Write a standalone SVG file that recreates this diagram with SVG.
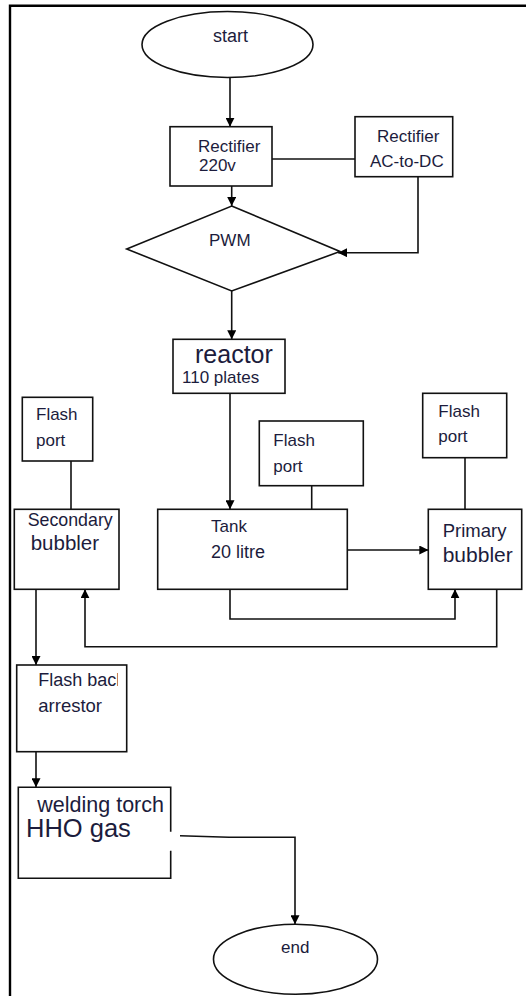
<svg xmlns="http://www.w3.org/2000/svg" width="526" height="996" viewBox="0 0 526 996">
<style>
.box{fill:#fff;stroke:#111;stroke-width:1.6}
.t{font-family:"Liberation Sans",Arial,sans-serif;font-size:17px;fill:#1c1c3c}
.c{fill:none;stroke:#111;stroke-width:1.6}
.frame{stroke:#000;stroke-width:2.4;fill:none}
</style>
<defs>
<marker id="ah" markerUnits="userSpaceOnUse" markerWidth="9" markerHeight="9" refX="9" refY="4.5" orient="auto" viewBox="0 0 9 9">
<path d="M0,0 L9,4.5 L0,9 z" fill="#000"/>
</marker>
<clipPath id="clipArr"><rect x="16" y="665" width="102" height="87"/></clipPath>
</defs>
<rect width="526" height="996" fill="#fff"/>
<path class="frame" d="M10 996 V5.8 H526"/>

<g id="connectors">
<path class="c" d="M230 77.5 V126.7" marker-end="url(#ah)"/>
<path class="c" d="M272 159 H355"/>
<path class="c" d="M231.7 186 V206" marker-end="url(#ah)"/>
<path class="c" d="M418 177 V252.7 H338" marker-end="url(#ah)"/>
<path class="c" d="M231.7 291 V339.3" marker-end="url(#ah)"/>
<path class="c" d="M230 393.3 V509.3" marker-end="url(#ah)"/>
<path class="c" d="M311.7 485.7 V509.3"/>
<path class="c" d="M71 461 V509.3"/>
<path class="c" d="M465 457.7 V509.3"/>
<path class="c" d="M347.3 550 H428.3" marker-end="url(#ah)"/>
<path class="c" d="M230 589.3 V619 H455 V589.3" marker-end="url(#ah)"/>
<path class="c" d="M496.7 589.3 V646.7 H85 V589.3" marker-end="url(#ah)"/>
<path class="c" d="M36 589.3 V665" marker-end="url(#ah)"/>
<path class="c" d="M36 751.7 V787.3" marker-end="url(#ah)"/>
<path class="c" d="M180 835.7 L229 837.3 H295 V924.3" marker-end="url(#ah)"/>
</g>

<g id="start">
<ellipse class="box" cx="227.5" cy="44.5" rx="85.5" ry="33"/>
<text class="t" x="213" y="42" style="font-size:18px">start</text>
</g>

<g id="rectifier220">
<rect class="box" x="170" y="126.7" width="102" height="59.3"/>
<text class="t" x="198" y="152">Rectifier</text>
<text class="t" x="199" y="170.5">220v</text>
</g>

<g id="rectifierACDC">
<rect class="box" x="355" y="116.7" width="97.7" height="60"/>
<text class="t" x="377" y="142">Rectifier</text>
<text class="t" x="370" y="167">AC-to-DC</text>
</g>

<g id="pwm">
<polygon class="box" points="231.7,206 340,251.5 231.7,291 126.7,249"/>
<text class="t" x="209" y="246">PWM</text>
</g>

<g id="reactor">
<rect class="box" x="173" y="339.3" width="112" height="54"/>
<text class="t" x="195" y="363" style="font-size:25px">reactor</text>
<text class="t" x="182" y="383">110 plates</text>
</g>

<g id="flashport-left">
<rect class="box" x="22.3" y="397.3" width="70.4" height="63.7"/>
<text class="t" x="36" y="420">Flash</text>
<text class="t" x="36" y="446">port</text>
</g>

<g id="flashport-mid">
<rect class="box" x="259.3" y="421" width="104" height="64.7"/>
<text class="t" x="273.3" y="446">Flash</text>
<text class="t" x="273.3" y="471.7">port</text>
</g>

<g id="flashport-right">
<rect class="box" x="422.7" y="393.3" width="84" height="64.4"/>
<text class="t" x="438.3" y="416.7">Flash</text>
<text class="t" x="438.3" y="441.7">port</text>
</g>

<g id="secondary-bubbler">
<rect class="box" x="14.3" y="509.3" width="104.7" height="80"/>
<text class="t" x="27.7" y="526" style="font-size:17.8px">Secondary</text>
<text class="t" x="30.7" y="550" style="font-size:20.5px">bubbler</text>
</g>

<g id="tank">
<rect class="box" x="157.7" y="509.3" width="189.6" height="80"/>
<text class="t" x="211" y="531.7">Tank</text>
<text class="t" x="211" y="557.7" style="font-size:18px">20 litre</text>
</g>

<g id="primary-bubbler">
<rect class="box" x="428.3" y="509.3" width="93.4" height="80"/>
<text class="t" x="442.7" y="536.7" style="font-size:18.5px">Primary</text>
<text class="t" x="442.7" y="561.7" style="font-size:21px">bubbler</text>
</g>

<g id="flashback-arrestor">
<rect class="box" x="16.7" y="665" width="110" height="86.7"/>
<text class="t" x="38.3" y="686" style="font-size:18px" clip-path="url(#clipArr)">Flash back</text>
<text class="t" x="38.3" y="711.7" style="font-size:18.5px">arrestor</text>
</g>

<g id="welding-torch">
<path class="box" d="M170.7 831.7 V787.3 H18.3 V878.3 H170.7 V850.7"/>
<text class="t" x="37.3" y="811.7" style="font-size:21.5px">welding torch</text>
<text class="t" x="26" y="837.3" style="font-size:25.5px">HHO gas</text>
</g>

<g id="end">
<ellipse class="box" cx="295.5" cy="959.2" rx="82" ry="35"/>
<text class="t" x="281" y="953.3">end</text>
</g>
</svg>
